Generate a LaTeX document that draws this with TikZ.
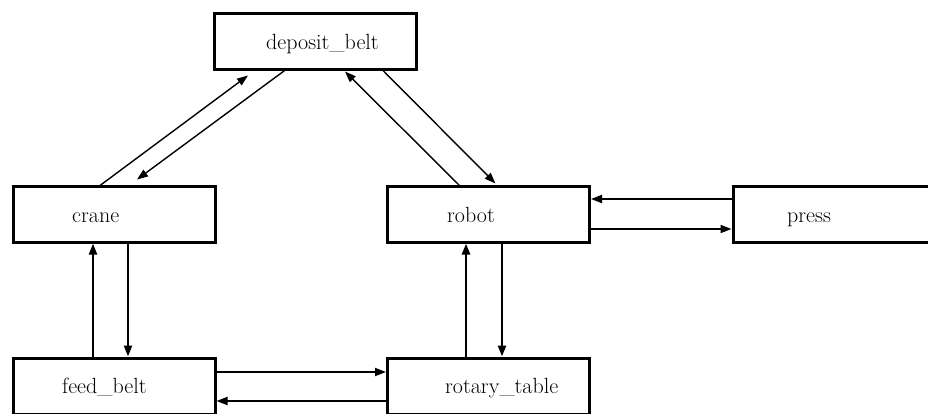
\documentclass[tikz,border=0pt]{standalone}
\usetikzlibrary{arrows.meta,calc}
\begin{document}
\begin{tikzpicture}[x=1pt,y=-1pt,
  box/.style={draw,line width=3pt,minimum width=202pt,minimum height=56pt,inner sep=0pt},
  lbl/.style={anchor=base west,inner sep=0pt,font=\fontsize{22}{26}\selectfont},
  arr/.style={line width=1.8pt,-{Triangle[length=11pt,width=8pt]}},
  darr/.style={line width=1.4pt,-{Triangle[length=11pt,width=8pt]}}]
\clip (0,0) rectangle (928,413);
\fill[white] (0,0) rectangle (928,413);
\node[box] (dep) at (315,41) {};
\node[box] (crane) at (114,214) {};
\node[box] (robot) at (488.5,214) {};
\node[box] (press) at (834,214) {};
\node[box] (feed) at (114,386) {};
\node[box] (rot) at (488.5,386) {};
\node[lbl] (tdep) at (266,49) {deposit\_belt};
\node[lbl] (tcrane) at (72,222) {crane};
\node[lbl] (trobot) at (447,222) {robot};
\node[lbl] (tpress) at (787,222) {press};
\node[lbl] (tfeed) at (62,393) {feed\_belt};
\node[lbl] (trot) at (445,393) {rotary\_table};
% diagonals
\draw[darr] ([xshift=-14pt,yshift=-1pt]crane.north) -- ([xshift=-67pt,yshift=-5pt]dep.south);
\draw[darr] ([xshift=-29pt,yshift=1pt]dep.south) -- ([xshift=23pt,yshift=5pt]crane.north);
\draw[darr] ([xshift=-29pt,yshift=-1pt]robot.north) -- ([xshift=30pt,yshift=-1pt]dep.south);
\draw[darr] ([xshift=67pt,yshift=1pt]dep.south) -- ([xshift=7pt,yshift=1pt]robot.north);
% horizontals
\draw[arr] ([yshift=15pt]press.west) -- ([yshift=15pt]robot.east);
\draw[arr] ([yshift=-15pt]robot.east) -- ([yshift=-15pt]press.west);
\draw[arr] ([yshift=14pt]feed.east) -- ([yshift=14pt]rot.west);
\draw[arr] ([yshift=-15pt]rot.west) -- ([yshift=-15pt]feed.east);
% verticals
\draw[arr,line width=2.2pt] ([xshift=-21pt]feed.north) -- ([xshift=-21pt]crane.south);
\draw[arr,line width=2.2pt] ([xshift=14pt]crane.south) -- ([xshift=14pt]feed.north);
\draw[arr,line width=2.6pt] ([xshift=-22.5pt]rot.north) -- ([xshift=-22.5pt]robot.south);
\draw[arr,line width=2.6pt] ([xshift=13.5pt]robot.south) -- ([xshift=13.5pt]rot.north);
\end{tikzpicture}
\end{document}
